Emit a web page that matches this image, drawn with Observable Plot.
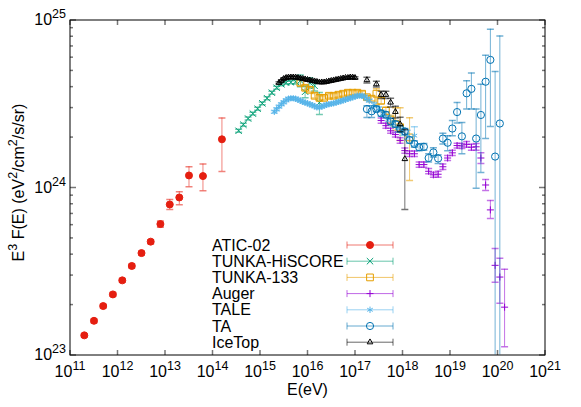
<!DOCTYPE html>
<html><head><meta charset="utf-8">
<script src="https://cdn.jsdelivr.net/npm/d3@7"></script>
<script src="https://cdn.jsdelivr.net/npm/@observablehq/plot@0.6"></script>
<style>
html,body{margin:0;padding:0;background:#fff;}
#chart svg{display:block;}
</style></head><body><div id="chart"></div>
<script>
// ---------------- data (E in eV, F in units of 1e24 eV^2/cm^2/s/sr) ----------------
const xTickExp = [11,12,13,14,15,16,17,18,19,20,21];
const yTickExp = [23,24,25];
const yMinorMant = [2,3,4,5,6,7,8,9];

const seriesNames = ["ATIC-02","TUNKA-HiSCORE","TUNKA-133","Auger","TALE","TA","IceTop"];
const seriesColors = ["#e51e10","#009e73","#e69f00","#9400d3","#56b4e9","#0072b2","#000000"];

const atic_E  = [2e11,3.2e11,5e11,8e11,1.26e12,2e12,3.2e12,5e12,8e12,1.26e13,2e13,3.2e13,6.3e13,1.58e14];
const atic_F  = [0.131,0.160,0.196,0.230,0.279,0.340,0.406,0.475,0.605,0.792,0.872,1.18,1.17,1.94];
const atic_lo = [0.128,0.156,0.191,0.224,0.272,0.331,0.395,0.462,0.580,0.738,0.789,1.01,0.955,1.245];
const atic_hi = [0.134,0.164,0.201,0.236,0.286,0.349,0.417,0.488,0.630,0.848,0.942,1.33,1.38,2.60];

const hiscore_E = [3.55e14,4.47e14,5.62e14,7.08e14,8.91e14,1.12e15,1.41e15,1.78e15,2.24e15,2.82e15,3.55e15,4.47e15,5.62e15,7.08e15,8.91e15,1.12e16,1.41e16,1.78e16];
const hiscore_F = [2.18,2.37,2.58,2.76,2.95,3.18,3.41,3.68,3.94,4.13,4.22,4.25,4.28,4.34,3.73,4.22,4.05,3.21];
const hiscore_pct = [2,2,2,2,2,2,2,2,2,2,2,2,3,8,8,7,7,15];

const tunka_E = [7.08e15,8.91e15,1.12e16,1.41e16,1.78e16,2.24e16,2.82e16,3.55e16,4.47e16,5.62e16,7.08e16,8.91e16,1.12e17,1.41e17,1.78e17,2.24e17,2.82e17,3.55e17,4.47e17,5.62e17,7.08e17,8.91e17,1.41e18];
const tunka_F = [4.22,3.94,3.83,3.53,3.43,3.43,3.53,3.53,3.58,3.63,3.68,3.68,3.68,3.63,3.46,3.39,3.63,3.30,2.87,2.54,2.40,2.29,1.99];
const tunka_lo = [4.05,3.82,3.72,3.42,3.33,3.33,3.42,3.42,3.47,3.52,3.57,3.57,3.57,3.52,3.35,3.29,3.12,3.15,2.72,2.38,2.20,1.905,1.10];
const tunka_hi = [4.40,4.06,3.95,3.64,3.53,3.53,3.64,3.64,3.69,3.74,3.79,3.79,3.79,3.74,3.56,3.49,3.88,3.45,3.02,2.70,2.99,2.99,2.61];

const auger_E = [3.55e17,4.47e17,5.62e17,7.08e17,8.91e17,1.12e18,1.41e18,1.78e18,2.24e18,2.82e18,3.55e18,4.47e18,5.62e18,7.08e18,8.91e18,1.12e19,1.41e19,1.78e19,2.24e19,2.82e19,3.55e19,4.47e19,5.62e19,7.08e19,8.91e19,1.12e20,1.41e20];
const auger_F = [2.51,2.34,2.18,2.07,1.91,1.66,1.59,1.59,1.37,1.37,1.25,1.19,1.20,1.33,1.50,1.61,1.78,1.77,1.81,1.74,1.75,1.50,1.035,0.735,0.343,0.292,0.193];
const auger_lo = [2.42,2.26,2.11,2.00,1.84,1.60,1.53,1.53,1.32,1.32,1.21,1.15,1.15,1.28,1.45,1.55,1.72,1.71,1.74,1.67,1.67,1.39,0.96,0.654,0.272,0.204,0.112];
const auger_hi = [2.60,2.42,2.26,2.14,1.98,1.72,1.65,1.65,1.42,1.42,1.30,1.23,1.25,1.38,1.55,1.67,1.84,1.83,1.88,1.81,1.83,1.615,1.116,0.837,0.433,0.378,0.325];

const tale_E = [2.00e15,2.24e15,2.51e15,2.82e15,3.16e15,3.55e15,3.98e15,4.47e15,5.01e15,5.62e15,6.31e15,7.08e15,7.94e15,8.91e15,1.00e16,1.12e16,1.26e16,1.41e16,1.58e16,1.78e16,2.00e16,2.24e16,2.51e16,2.82e16,3.16e16,3.55e16,3.98e16,4.47e16,5.01e16,5.62e16,6.31e16,7.08e16,7.94e16,8.91e16,1.00e17,1.12e17,1.26e17,1.41e17,1.58e17,1.78e17,2.00e17,2.51e17,3.16e17,3.98e17,5.01e17,6.31e17,7.94e17,1.00e18,1.26e18,1.78e18];
const tale_F = [2.83,2.93,3.04,3.14,3.23,3.32,3.39,3.41,3.41,3.39,3.34,3.30,3.25,3.21,3.18,3.14,3.10,3.06,3.01,3.01,3.04,3.08,3.12,3.14,3.16,3.18,3.21,3.25,3.27,3.32,3.34,3.39,3.41,3.46,3.48,3.53,3.53,3.53,3.48,3.39,3.30,3.12,2.95,2.76,2.58,2.40,2.25,2.15,2.07,2.04];
const tale_pct = [2,2,2,2,2,2,2,2,2,2,2,2,2,2,2,2,2,2,2,2,2,2,2,2,2,2,2,2,2,2,2,2,2,2,2,2,2,2,2,2,2,3,3,3,4,4,5,5,6,13];

const ta_E = [1.78e17,2.24e17,2.82e17,3.55e17,4.47e17,5.62e17,7.08e17,8.91e17,1.12e18,1.41e18,1.78e18,2.24e18,2.82e18,3.55e18,4.47e18,5.62e18,7.08e18,8.91e18,1.12e19,1.41e19,1.78e19,2.24e19,2.82e19,3.55e19,4.47e19,5.62e19,7.08e19,8.91e19,1.12e20];
const ta_F = [2.94,2.85,2.94,2.77,2.72,2.48,2.39,2.24,2.16,1.92,1.82,1.74,1.75,1.50,1.62,1.49,1.96,1.85,2.25,2.82,2.02,3.65,3.88,1.96,2.71,4.28,5.78,1.53,2.41];
const ta_lo = [2.62,2.62,2.83,2.66,2.61,2.38,2.29,2.15,2.07,1.84,1.74,1.66,1.67,1.42,1.52,1.39,1.82,1.66,2.04,2.43,1.59,2.94,2.94,0.99,1.23,1.96,2.31,0.05,0.05];
const ta_hi = [3.08,3.08,3.06,2.89,2.83,2.58,2.49,2.33,2.25,2.00,1.90,1.82,1.83,1.59,1.73,1.57,2.11,2.04,2.51,3.22,2.44,4.34,4.82,2.94,4.14,6.15,8.81,4.92,8.03];

const icetop_E = [2.51e15,2.82e15,3.16e15,3.55e15,3.98e15,4.47e15,5.01e15,5.62e15,6.31e15,7.08e15,7.94e15,8.91e15,1.00e16,1.12e16,1.26e16,1.41e16,1.58e16,1.78e16,2.00e16,2.24e16,2.51e16,2.82e16,3.16e16,3.55e16,3.98e16,4.47e16,5.01e16,5.62e16,6.31e16,7.08e16,7.94e16,8.91e16,1.00e17,1.78e17,2.82e17,3.55e17,4.47e17,5.62e17,7.08e17,8.91e17,1.12e18];
const icetop_F = [4.22,4.34,4.46,4.52,4.55,4.55,4.55,4.55,4.52,4.49,4.46,4.43,4.40,4.37,4.34,4.31,4.28,4.25,4.25,4.25,4.28,4.31,4.34,4.37,4.40,4.43,4.46,4.49,4.52,4.52,4.55,4.55,4.52,4.38,4.14,3.58,3.58,3.22,2.83,2.39,1.48];
const icetop_pct = [1.5,1.5,1.5,1.5,1.5,1.5,1.5,1.5,1.5,1.5,1.5,1.5,1.5,1.5,1.5,1.5,1.5,1.5,1.5,1.5,1.5,1.5,1.5,1.5,1.5,1.5,1.5,1.5,1.5,1.5,1.5,1.5,1.5,4,4,5,5,6,8,10,50];

// ---------------- build tables ----------------
const table = (E, F, lo, hi) => E.map((e, i) => ({E: e, F: F[i] * 1e24, lo: lo[i] * 1e24, hi: hi[i] * 1e24}));
const tablePct = (E, F, p) => E.map((e, i) => ({E: e, F: F[i] * 1e24, lo: F[i] * (1 - p[i] / 100) * 1e24, hi: F[i] * (1 + p[i] / 100) * 1e24}));

const datasets = [
  {data: table(atic_E, atic_F, atic_lo, atic_hi), symbol: "circle", r: 3.5, filled: true},
  {data: tablePct(hiscore_E, hiscore_F, hiscore_pct), symbol: "times", r: 3.0},
  {data: table(tunka_E, tunka_F, tunka_lo, tunka_hi), symbol: "square", r: 3.8},
  {data: table(auger_E, auger_F, auger_lo, auger_hi), symbol: "plus", r: 2.4},
  {data: tablePct(tale_E, tale_F, tale_pct), symbol: "asterisk", r: 3.0},
  {data: table(ta_E, ta_F, ta_lo, ta_hi), symbol: "circle", r: 3.6},
  {data: tablePct(icetop_E, icetop_F, icetop_pct), symbol: "triangle", r: 2.1}
];

const xTicks = xTickExp.map(e => 10 ** e);
const yTicks = yTickExp.map(e => 10 ** e);
const yMinor = yTickExp.slice(0, -1).flatMap(e => yMinorMant.map(m => m * 10 ** e));

// custom symbols
const cap = {draw(c) { c.moveTo(-3.5, 0); c.lineTo(3.5, 0); }};
const tick = (dx, dy) => ({draw(c) { c.moveTo(0, 0); c.lineTo(dx, dy); }});

const FONT = "'Liberation Sans', Arial, Helvetica, sans-serif";
const BASE = 16, SUP = 12.5, RISE = 7;
const tickColor = "#777";
const marks = [];
datasets.forEach((s, k) => {
  const col = seriesColors[k];
  marks.push(
    Plot.ruleX(s.data, {x: "E", y1: "lo", y2: "hi", stroke: col, strokeOpacity: 0.55, clip: true}),
    Plot.dot(s.data, {x: "E", y: "lo", symbol: cap, stroke: col, strokeOpacity: 0.55, fill: "none", clip: true}),
    Plot.dot(s.data, {x: "E", y: "hi", symbol: cap, stroke: col, strokeOpacity: 0.55, fill: "none", clip: true}),
    Plot.dot(s.data, {x: "E", y: "F", symbol: s.symbol, r: s.r, stroke: col, strokeWidth: 1, fill: s.filled ? col : "none", clip: true})
  );
});

const fmtExp = d => `10^${Math.round(Math.log10(d))}`;

const svg = Plot.plot({
  width: 581,
  height: 407,
  marginLeft: 69.5,
  marginRight: 36.5,
  marginTop: 19.5,
  marginBottom: 52.5,
  style: {fontFamily: FONT, fontSize: BASE + "px", background: "#fff", color: "#000"},
  x: {type: "log", domain: [1e11, 1e21], label: null},
  y: {type: "log", domain: [1e23, 1e25], label: null},
  marks: [
    ...marks,
    // inward ticks
    Plot.dot(xTicks, {x: d => d, frameAnchor: "bottom", symbol: tick(0, -5), stroke: tickColor, fill: "none"}),
    Plot.dot(xTicks, {x: d => d, frameAnchor: "top", symbol: tick(0, 5), stroke: tickColor, fill: "none"}),
    Plot.dot(yTicks, {y: d => d, frameAnchor: "left", symbol: tick(6, 0), stroke: tickColor, fill: "none"}),
    Plot.dot(yTicks, {y: d => d, frameAnchor: "right", symbol: tick(-6, 0), stroke: tickColor, fill: "none"}),
    Plot.dot(yMinor, {y: d => d, frameAnchor: "left", symbol: tick(3, 0), stroke: tickColor, fill: "none"}),
    Plot.dot(yMinor, {y: d => d, frameAnchor: "right", symbol: tick(-3, 0), stroke: tickColor, fill: "none"}),
    // tick labels
    Plot.axisX(xTicks, {anchor: "bottom", tickSize: 0, tickPadding: 11, tickFormat: fmtExp, fontSize: BASE, label: null}),
    Plot.axisY(yTicks, {anchor: "left", tickSize: 0, tickPadding: 4, tickFormat: fmtExp, fontSize: BASE, label: null}),
    // axis titles
    Plot.text(["E(eV)"], {text: d => d, frameAnchor: "bottom", dy: 40, fontSize: BASE, textAnchor: "middle"}),
    Plot.text(["E^3 F(E) (eV^2/cm^2/s/sr)"], {text: d => d, frameAnchor: "left", rotate: -90, dx: -51, dy: -5, fontSize: BASE, textAnchor: "middle"}),
    Plot.frame({stroke: "#000"})
  ]
});

// superscripts for "^" notation
function supify(root) {
  root.querySelectorAll("text").forEach(t => {
    const s = t.textContent;
    if (!s.includes("^")) return;
    const parts = s.split(/\^(\w+)/);
    t.textContent = "";
    let raised = false;
    parts.forEach((p, i) => {
      if (i % 2 === 1) {
        const ts = document.createElementNS("http://www.w3.org/2000/svg", "tspan");
        ts.setAttribute("font-size", SUP);
        ts.setAttribute("dy", -RISE);
        ts.textContent = p;
        t.appendChild(ts);
        raised = true;
      } else if (p.length) {
        const ts = document.createElementNS("http://www.w3.org/2000/svg", "tspan");
        ts.setAttribute("font-size", BASE);
        if (raised) ts.setAttribute("dy", RISE);
        ts.textContent = p;
        t.appendChild(ts);
        raised = false;
      }
    });
  });
}
supify(svg);

// legend (gnuplot-style key)
const legendTextX = 212, legendTop = 245, legendStep = 16.2;
const legendX1 = 347, legendX2 = 393, legendMid = 370;
const symbolTypes = {circle: d3.symbolCircle, times: d3.symbolTimes, square: d3.symbolSquare, plus: d3.symbolPlus, asterisk: d3.symbolAsterisk, triangle: d3.symbolTriangle};
const lg = d3.select(svg).append("g").attr("font-family", FONT).attr("font-size", BASE).attr("text-anchor", "start");
seriesNames.forEach((name, i) => {
  const cy = legendTop + i * legendStep;
  const col = seriesColors[i];
  const s = datasets[i];
  lg.append("text").attr("x", legendTextX).attr("y", cy).attr("dy", "0.35em").attr("fill", "#000").attr("text-anchor", "start").text(name);
  const sg = lg.append("g").attr("stroke", col).attr("stroke-opacity", 0.6);
  sg.append("line").attr("x1", legendX1).attr("x2", legendX2).attr("y1", cy).attr("y2", cy);
  sg.append("line").attr("x1", legendX1).attr("x2", legendX1).attr("y1", cy - 3.5).attr("y2", cy + 3.5);
  sg.append("line").attr("x1", legendX2).attr("x2", legendX2).attr("y1", cy - 3.5).attr("y2", cy + 3.5);
  lg.append("path")
    .attr("d", d3.symbol(symbolTypes[s.symbol], Math.PI * s.r * s.r)())
    .attr("transform", `translate(${legendMid},${cy})`)
    .attr("stroke", col)
    .attr("fill", s.filled ? col : "none");
});

document.getElementById("chart").appendChild(svg);
</script></body></html>
